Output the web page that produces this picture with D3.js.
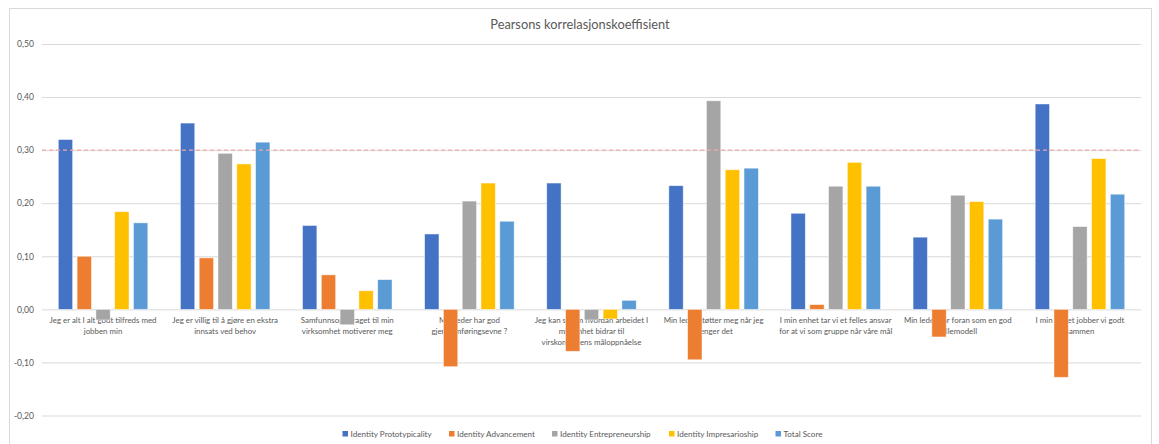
<!DOCTYPE html>
<html>
<head>
<meta charset="utf-8">
<script src="https://cdn.jsdelivr.net/npm/d3@7"></script>
<style>
  html, body { margin: 0; padding: 0; background: #fff; }
  svg { display: block; font-family: Lato, "Open Sans", sans-serif; }
</style>
</head>
<body>
<svg id="chart" width="1159" height="444"></svg>
<script>
// Questionnaire items (x-axis categories), wrapped as drawn
const categories = [
  ["Jeg er alt I alt godt tilfreds med", "jobben min"],
  ["Jeg er villig til å gjøre en ekstra", "innsats ved behov"],
  ["Samfunnsoppdraget til min", "virksomhet motiverer meg"],
  ["Min leder har god", "gjennomføringsevne ?"],
  ["Jeg kan se om hvordan arbeidet I", "min enhet bidrar til", "virskomhetens måloppnåelse"],
  ["Min leder støtter meg når jeg", "trenger det"],
  ["I min enhet tar vi et felles ansvar", "for at vi som gruppe når våre mål"],
  ["Min leder går foran som en god", "rollemodell"],
  ["I min enhet jobber vi godt", "sammen"]
];

const seriesNames = [
  "Identity Prototypicality",
  "Identity Advancement",
  "Identity Entrepreneurship",
  "Identity Impresarioship",
  "Total Score"
];

// Pearson correlation per item for each series
const prototypicality  = [0.32, 0.351, 0.158, 0.142, 0.238, 0.233, 0.181, 0.136, 0.387];
const advancement      = [0.10, 0.097, 0.065, -0.108, -0.079, -0.095, 0.009, -0.052, -0.128];
const entrepreneurship = [-0.02, 0.294, -0.029, 0.204, -0.02, 0.393, 0.232, 0.215, 0.156];
const impresarioship   = [0.184, 0.274, 0.035, 0.238, -0.018, 0.263, 0.277, 0.203, 0.284];
const totalScore       = [0.163, 0.315, 0.056, 0.166, 0.017, 0.266, 0.232, 0.170, 0.217];

const seriesValues = [prototypicality, advancement, entrepreneurship, impresarioship, totalScore];
const seriesColors = ["#4472C4", "#ED7D31", "#A5A5A5", "#FFC000", "#5B9BD5"];

const yTicks = [-0.2, -0.1, 0, 0.1, 0.2, 0.3, 0.4, 0.5];
const threshold = 0.30;

const fmt = v => d3.format(".2f")(v).replace(".", ",").replace("−", "-");

const svg = d3.select("#chart");
const plot = { left: 42, right: 1141, top: 44, bottom: 415.5 };

// Outer chart frame
svg.append("rect")
  .attr("x", 9.5).attr("y", 8.5)
  .attr("width", 1142).attr("height", 460)
  .attr("fill", "#fff").attr("stroke", "#d9d9d9").attr("stroke-width", 1);

// Title
svg.append("text")
  .attr("x", 580).attr("y", 28.5)
  .attr("text-anchor", "middle")
  .attr("font-size", 12.8)
  .attr("fill", "#595959")
  .text("Pearsons korrelasjonskoeffisient");

const y = d3.scaleLinear().domain([-0.2, 0.5]).range([plot.bottom, plot.top]);

const x0 = d3.scaleBand()
  .domain(d3.range(categories.length))
  .range([plot.left, plot.right])
  .paddingInner(0.267)
  .paddingOuter(0.1335);

const x1 = d3.scaleBand()
  .domain(d3.range(seriesNames.length))
  .range([0, x0.bandwidth()])
  .paddingInner(0.237)
  .paddingOuter(0);

// Gridlines and y labels via axis
const yAxis = d3.axisLeft(y)
  .tickValues(yTicks)
  .tickSize(-(plot.right - plot.left))
  .tickPadding(8)
  .tickFormat(fmt);

const gy = svg.append("g")
  .attr("transform", `translate(${plot.left},0)`)
  .call(yAxis);
gy.select(".domain").remove();
gy.selectAll(".tick line").attr("stroke", "#d9d9d9").attr("stroke-width", 1);
gy.selectAll(".tick text")
  .attr("fill", "#595959")
  .attr("font-size", 8.6)
  .attr("font-family", "Lato, sans-serif");

// Category labels along the zero line
const labels = svg.append("g");
categories.forEach((lines, i) => {
  const cx = x0(i) + x0.bandwidth() / 2;
  const t = labels.append("text")
    .attr("text-anchor", "middle")
    .attr("font-size", 7.9)
    .attr("fill", "#595959");
  lines.forEach((ln, k) => {
    t.append("tspan")
      .attr("x", cx)
      .attr("y", y(0) + 14 + k * 10.7)
      .text(ln);
  });
});

// Bars
const groups = svg.append("g").selectAll("g")
  .data(categories.map((c, i) => i))
  .join("g")
  .attr("transform", i => `translate(${x0(i)},0)`);

groups.selectAll("rect")
  .data(i => seriesValues.map((vals, s) => ({ s, v: vals[i] })))
  .join("rect")
  .attr("x", d => x1(d.s))
  .attr("width", x1.bandwidth())
  .attr("y", d => y(Math.max(0, d.v)))
  .attr("height", d => Math.abs(y(d.v) - y(0)))
  .attr("fill", d => seriesColors[d.s])
  .attr("stroke", "#ffffff")
  .attr("stroke-opacity", 0.6)
  .attr("stroke-width", 0.75);

// Reference line at r = 0.30
svg.append("line")
  .attr("x1", plot.left).attr("x2", plot.right)
  .attr("y1", y(threshold)).attr("y2", y(threshold))
  .attr("stroke", "#f4a6a6")
  .attr("stroke-width", 1.2)
  .attr("stroke-dasharray", "4,3");

// Legend
const legendX = [342.5, 449, 552, 669, 775.5];
const legend = svg.append("g");
seriesNames.forEach((name, s) => {
  legend.append("rect")
    .attr("x", legendX[s]).attr("y", 431)
    .attr("width", 5.5).attr("height", 5.5)
    .attr("fill", seriesColors[s]);
  legend.append("text")
    .attr("x", legendX[s] + 8).attr("y", 437)
    .attr("font-size", 8.1)
    .attr("fill", "#595959")
    .text(name);
});
</script>
</body>
</html>
